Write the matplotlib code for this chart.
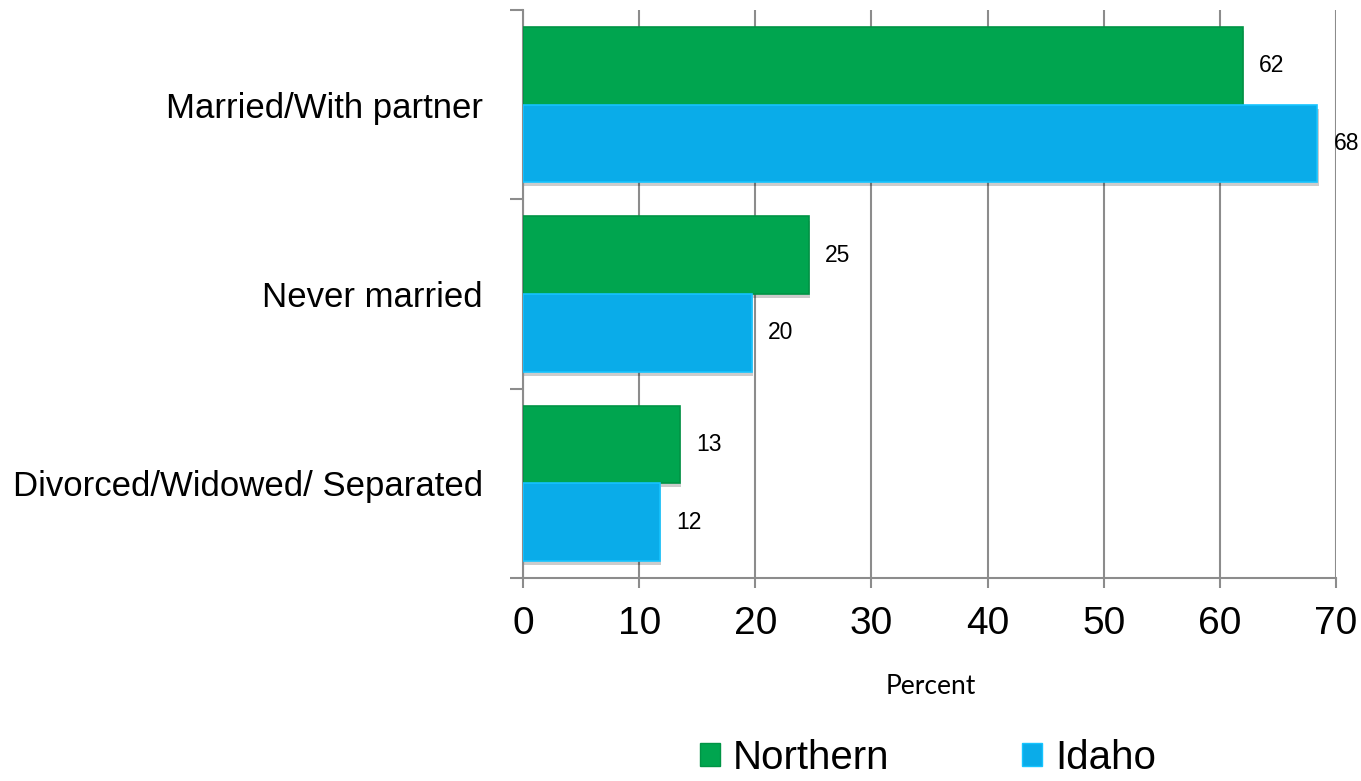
import matplotlib
matplotlib.use("Agg")
import matplotlib.pyplot as plt
import matplotlib.patheffects as pe
from matplotlib.patches import Patch
import numpy as np

categories = ["Married/With partner", "Never married", "Divorced/Widowed/ Separated"]
northern = [62, 24.6, 13.5]
idaho = [68.4, 19.7, 11.8]
northern_labels = ["62", "25", "13"]
idaho_labels = ["68", "20", "12"]

green = "#00A54F"
blue = "#0AACE9"
grid_col = "#8C8C8C"

plt.rcParams['font.family'] = ['Liberation Sans', 'DejaVu Sans']

fig = plt.figure(figsize=(13.61, 7.81), dpi=100)
ax = fig.add_axes([523 / 1361, 203 / 781, 813 / 1361, 568 / 781])

y = np.arange(len(categories))
h = 0.41
shadow = [pe.SimplePatchShadow(offset=(1, -3), shadow_rgbFace="#000000", alpha=0.2), pe.Normal()]

b1 = ax.barh(y - h / 2, northern, height=h, color=green, edgecolor="#009445", lw=1.2, zorder=3)
b2 = ax.barh(y + h / 2, idaho, height=h, color=blue, edgecolor="#15C4FF", lw=1.2, zorder=3)
for bar in list(b1) + list(b2):
    bar.set_path_effects(shadow)

for i in range(len(categories)):
    ax.text(northern[i] + 1.4, y[i] - h / 2, northern_labels[i], va="center", ha="left", fontsize=16.5, zorder=4)
    ax.text(idaho[i] + 1.4, y[i] + h / 2, idaho_labels[i], va="center", ha="left", fontsize=16.5, zorder=4)

ax.set_xlim(0, 70)
ax.set_ylim(2.5, -0.5)
ax.set_xticks(np.arange(0, 71, 10))
ax.tick_params(axis="x", labelsize=28, length=7, width=1.5, color=grid_col, pad=13, direction="out")
ax.set_yticks(y)
ax.set_yticklabels(categories, fontsize=25)
ax.tick_params(axis="y", which="major", length=0, pad=29)
ax.set_yticks([-0.5, 0.5, 1.5, 2.5], minor=True)
ax.tick_params(axis="y", which="minor", length=9.5, width=1.5, color=grid_col)

ax.grid(axis="x", color=grid_col, lw=1.5, zorder=0)
for s in ["top", "right"]:
    ax.spines[s].set_visible(False)
for s in ["left", "bottom"]:
    ax.spines[s].set_color(grid_col)
    ax.spines[s].set_linewidth(1.5)

fig.text(931 / 1361, 1 - 686 / 781, "Percent", fontsize=19, family="Lato", ha="center", va="center")

handles = [Patch(facecolor=green, edgecolor="#009445"), Patch(facecolor=blue, edgecolor="#15C4FF")]
fig.legend(handles, ["Northern", "Idaho"], loc="center", bbox_to_anchor=(928 / 1361, 1 - 758 / 781),
           ncol=2, frameon=False, fontsize=29, handlelength=0.5, handleheight=0.5, handletextpad=0.32,
           columnspacing=3.3, borderpad=0.1)

fig.savefig("out.png", dpi=100)
